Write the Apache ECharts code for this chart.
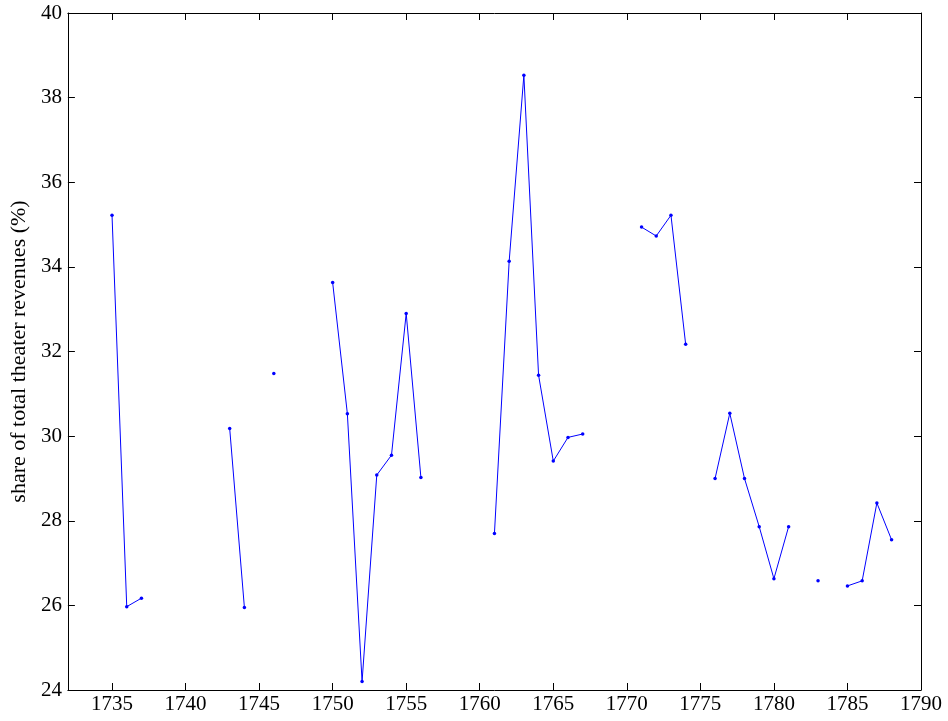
<!DOCTYPE html>
<html>
<head>
<meta charset="utf-8">
<script src="https://cdn.jsdelivr.net/npm/echarts@6/dist/echarts.min.js"></script>
<style>html,body{margin:0;padding:0;background:#fff}#c{width:948px;height:721px}</style>
</head>
<body>
<div id="c"></div>
<script>
const years = [1735,1736,1737,1738,1739,1740,1741,1742,1743,1744,1745,1746,1747,1748,1749,1750,1751,1752,1753,1754,1755,1756,1757,1758,1759,1760,1761,1762,1763,1764,1765,1766,1767,1768,1769,1770,1771,1772,1773,1774,1775,1776,1777,1778,1779,1780,1781,1782,1783,1784,1785,1786,1787,1788];
const shares = [35.22,25.97,26.17,null,null,null,null,null,30.18,25.95,null,31.48,null,null,null,33.63,30.53,24.2,29.08,29.55,32.9,29.02,null,null,null,null,27.7,34.13,38.53,31.44,29.41,29.97,30.05,null,null,null,34.94,34.73,35.22,32.17,null,29.0,30.54,29.0,27.86,26.63,27.86,null,26.58,null,26.46,26.58,28.42,27.55];
const xTicks = [1735,1740,1745,1750,1755,1760,1765,1770,1775,1780,1785,1790];
const yTitle = 'share of total theater revenues (%)';

const font = 'Liberation Serif';
const fs = 21;
const data = years.map((y, i) => [y, shares[i]]);
const axisLine = {show: true, lineStyle: {color: '#000', width: 1}};
const chart = echarts.init(document.getElementById('c'), null, {renderer: 'canvas'});
chart.setOption({
  animation: false,
  grid: {left: 66, right: 27, top: 13, bottom: 31, containLabel: false},
  xAxis: [{
    type: 'value', min: 1732, max: 1790, position: 'bottom',
    axisLine: axisLine,
    axisTick: {show: true, inside: true, length: 7, customValues: xTicks, lineStyle: {color: '#000'}},
    axisLabel: {customValues: xTicks, formatter: v => String(v), color: '#000', fontFamily: font, fontSize: fs, margin: 4},
    splitLine: {show: false}
  }, {
    type: 'value', min: 1732, max: 1790, position: 'top',
    axisLine: axisLine,
    axisTick: {show: true, inside: true, length: 7, customValues: xTicks, lineStyle: {color: '#000'}},
    axisLabel: {show: false},
    splitLine: {show: false}
  }],
  yAxis: [{
    type: 'value', min: 24, max: 40, interval: 2, position: 'left',
    name: yTitle, nameLocation: 'middle', nameGap: 35, nameRotate: 90,
    nameTextStyle: {color: '#000', fontFamily: font, fontSize: 22},
    axisLine: axisLine,
    axisTick: {show: true, inside: true, length: 7, lineStyle: {color: '#000'}},
    axisLabel: {color: '#000', fontFamily: font, fontSize: fs, margin: 6},
    splitLine: {show: false}
  }, {
    type: 'value', min: 24, max: 40, interval: 2, position: 'right',
    axisLine: axisLine,
    axisTick: {show: true, inside: true, length: 7, lineStyle: {color: '#000'}},
    axisLabel: {show: false},
    splitLine: {show: false}
  }],
  series: [{
    type: 'line', data: data, connectNulls: false,
    symbol: 'circle', symbolSize: 3.5, showSymbol: true,
    lineStyle: {color: '#0000ff', width: 1},
    itemStyle: {color: '#0000ff'}
  }]
});
</script>
</body>
</html>
